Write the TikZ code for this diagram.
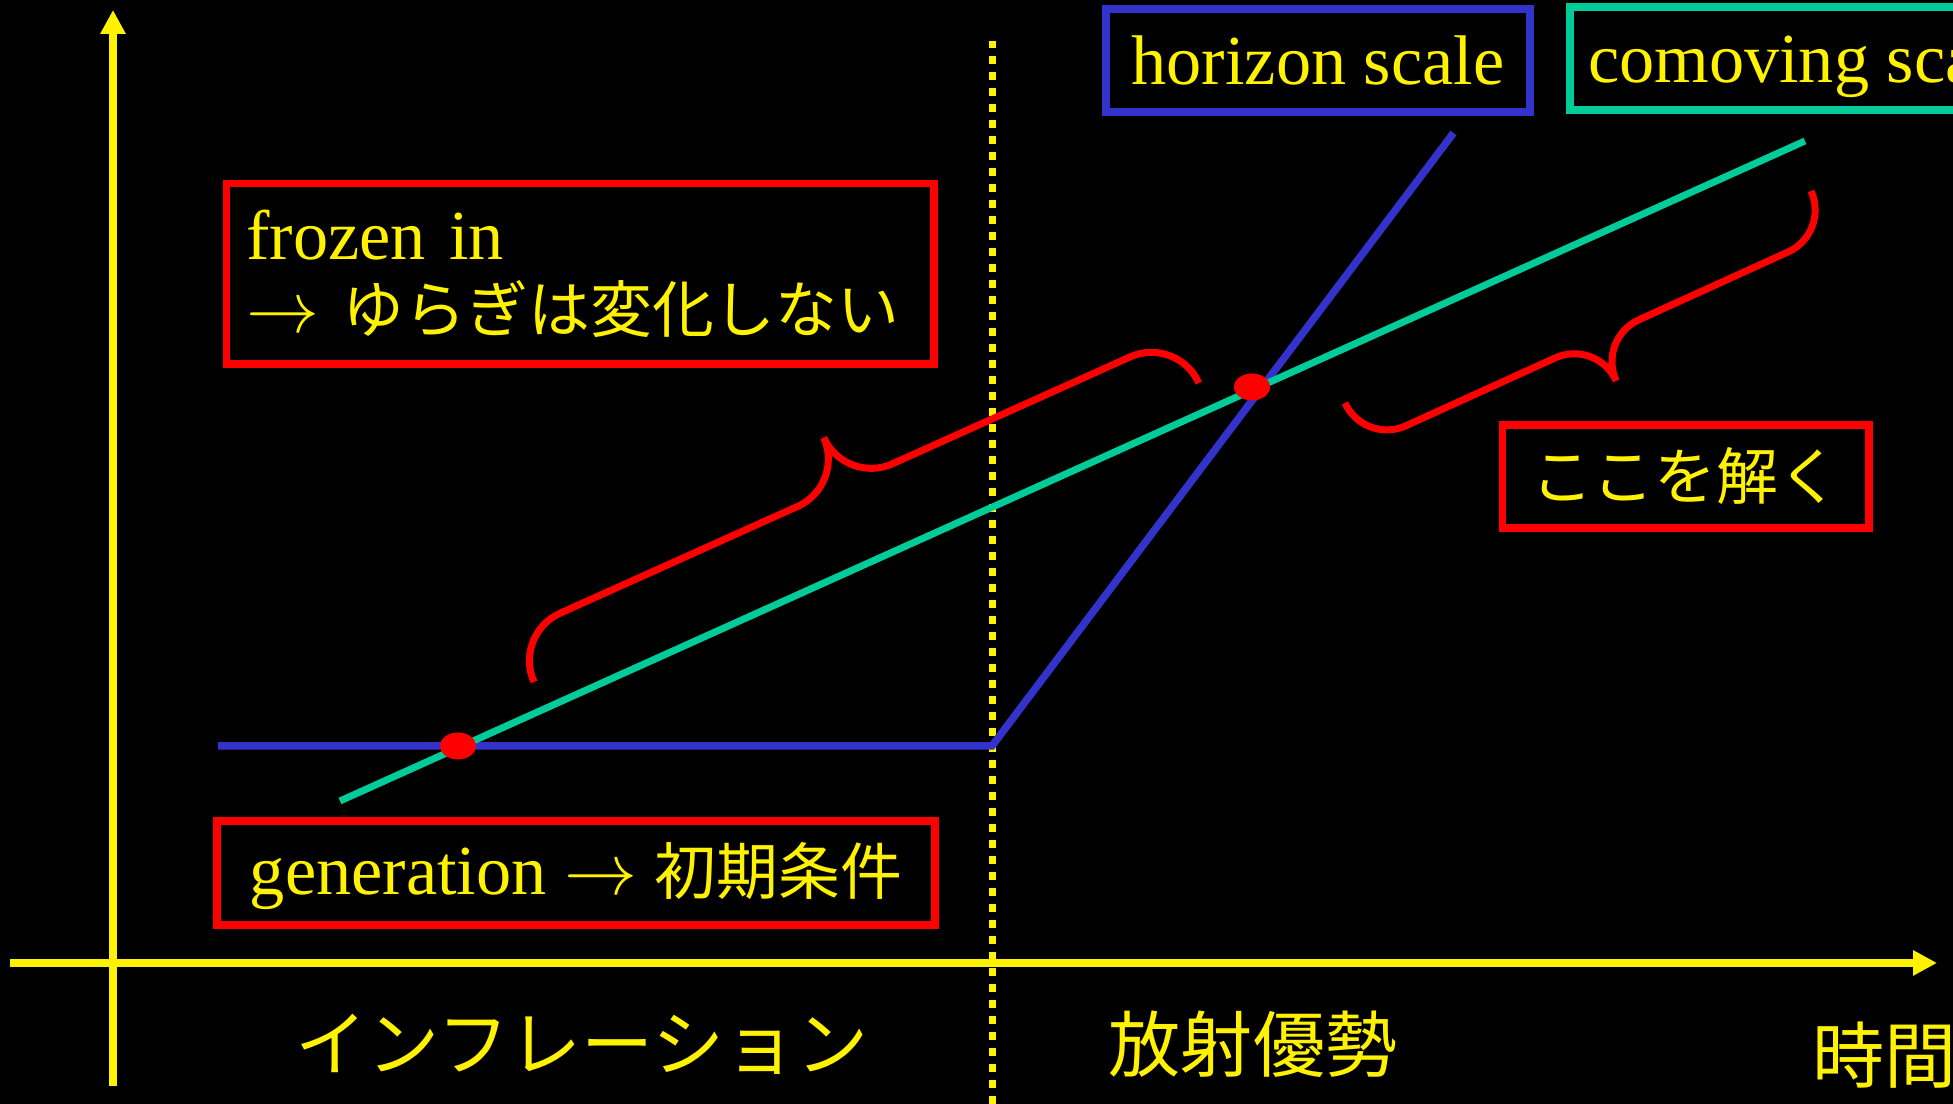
\documentclass[tikz,border=0pt]{standalone}
\usepackage{fontspec}
\setmainfont{Liberation Serif}
\newfontfamily\jpfont{Noto Sans CJK JP}
\usetikzlibrary{arrows.meta}

\definecolor{hblue}{RGB}{51,51,204}
\definecolor{cgreen}{RGB}{0,204,153}
\newcommand{\jtext}[1]{{\jpfont\fontsize{17.6pt}{20.8pt}\selectfont #1}}

\tikzset{
  axis/.style={yellow, line width=0.075cm, -{Triangle[length=0.24cm,width=0.24cm]}},
  scalebox/.style={draw=#1, line width=0.075cm, text=yellow, inner sep=0pt, outer sep=0pt,
    font=\fontsize{20pt}{20.8pt}\selectfont},
  curly/.style={draw=red, line width=0.07cm},
  era/.style={text=yellow, inner sep=0pt, font=\jpfont\fontsize{20.5pt}{22pt}\selectfont}
}

\begin{document}
\begin{tikzpicture}
\useasboundingbox (0,0) rectangle (19.53,11.04);
\fill[black] (0,0) rectangle (19.53,11.04);
\clip (0,0) rectangle (19.53,11.04);

% axes and the end of inflation
\draw[axis] (1.13,0.18) -- (1.13,10.94);
\draw[axis] (0.10,1.41) -- (19.37,1.41);
\draw[yellow, line width=0.07cm, dash pattern=on 0.08cm off 0.08cm] (9.92,0) -- (9.92,10.63);

% horizon and comoving scales
\coordinate (bend) at (9.92,3.58);
\draw[hblue, line width=0.075cm] (2.18,3.58) -- (bend) -- (14.535,9.71);
\draw[cgreen, line width=0.07cm] (3.40,3.03) -- (18.05,9.63);
\coordinate (exit) at (4.58,3.58);
\coordinate (entry) at (12.52,7.17);
\fill[red] (exit) ellipse [x radius=0.18, y radius=0.135];
\fill[red] (entry) ellipse [x radius=0.18, y radius=0.135];

% braces (drawn along the chord, tip in the middle)
\begin{scope}[shift={(5.34,4.22)}, rotate=24.21]
\draw[curly] (0,0) arc[start angle=180, end angle=90, radius=0.52] -- (3.125,0.52)
  arc[start angle=270, end angle=360, radius=0.52] arc[start angle=180, end angle=270, radius=0.52]
  -- (6.77,0.52) arc[start angle=90, end angle=0, radius=0.52];
\end{scope}
\begin{scope}[shift={(13.45,7.01)}, rotate=24.46, yscale=-1]
\draw[curly] (0,0) arc[start angle=180, end angle=90, radius=0.46] -- (2.10,0.46)
  arc[start angle=270, end angle=360, radius=0.46] arc[start angle=180, end angle=270, radius=0.46]
  -- (4.66,0.46) arc[start angle=90, end angle=0, radius=0.46];
\end{scope}

% labels
\node[scalebox=hblue, minimum width=4.24cm, minimum height=1.03cm, text height=0.48cm, text depth=0cm]
  (horizonbox) at (13.18,10.435) {horizon scale};
\node[scalebox=cgreen, anchor=west, inner xsep=0.18cm, minimum height=1.03cm, text height=0.48cm, text depth=0cm]
  (comovingbox) at (15.70,10.455) {comoving scale};
\node[scalebox=red, minimum width=7.075cm, minimum height=1.805cm, text width=6.675cm, inner xsep=0.2cm, align=left]
  (frozenbox) at (5.8025,8.3025) {frozen in\\$\rightarrow$ \jtext{ゆらぎは変化しない}};
\node[scalebox=red, minimum width=7.18cm, minimum height=1.04cm, text height=0.5cm, text depth=0.06cm]
  (genbox) at (5.76,2.31) {generation $\rightarrow$ \jtext{初期条件}};
\node[scalebox=red, minimum width=3.665cm, minimum height=1.03cm]
  (solvebox) at (16.8575,6.275) {\jtext{ここを解く}};

\node[era] (inflabel) at (5.82,0.60) {インフレーション};
\node[era] (radlabel) at (12.53,0.60) {放射優勢};
\node[era, anchor=west] (timelabel) at (18.12,0.49) {時間};
\end{tikzpicture}
\end{document}
